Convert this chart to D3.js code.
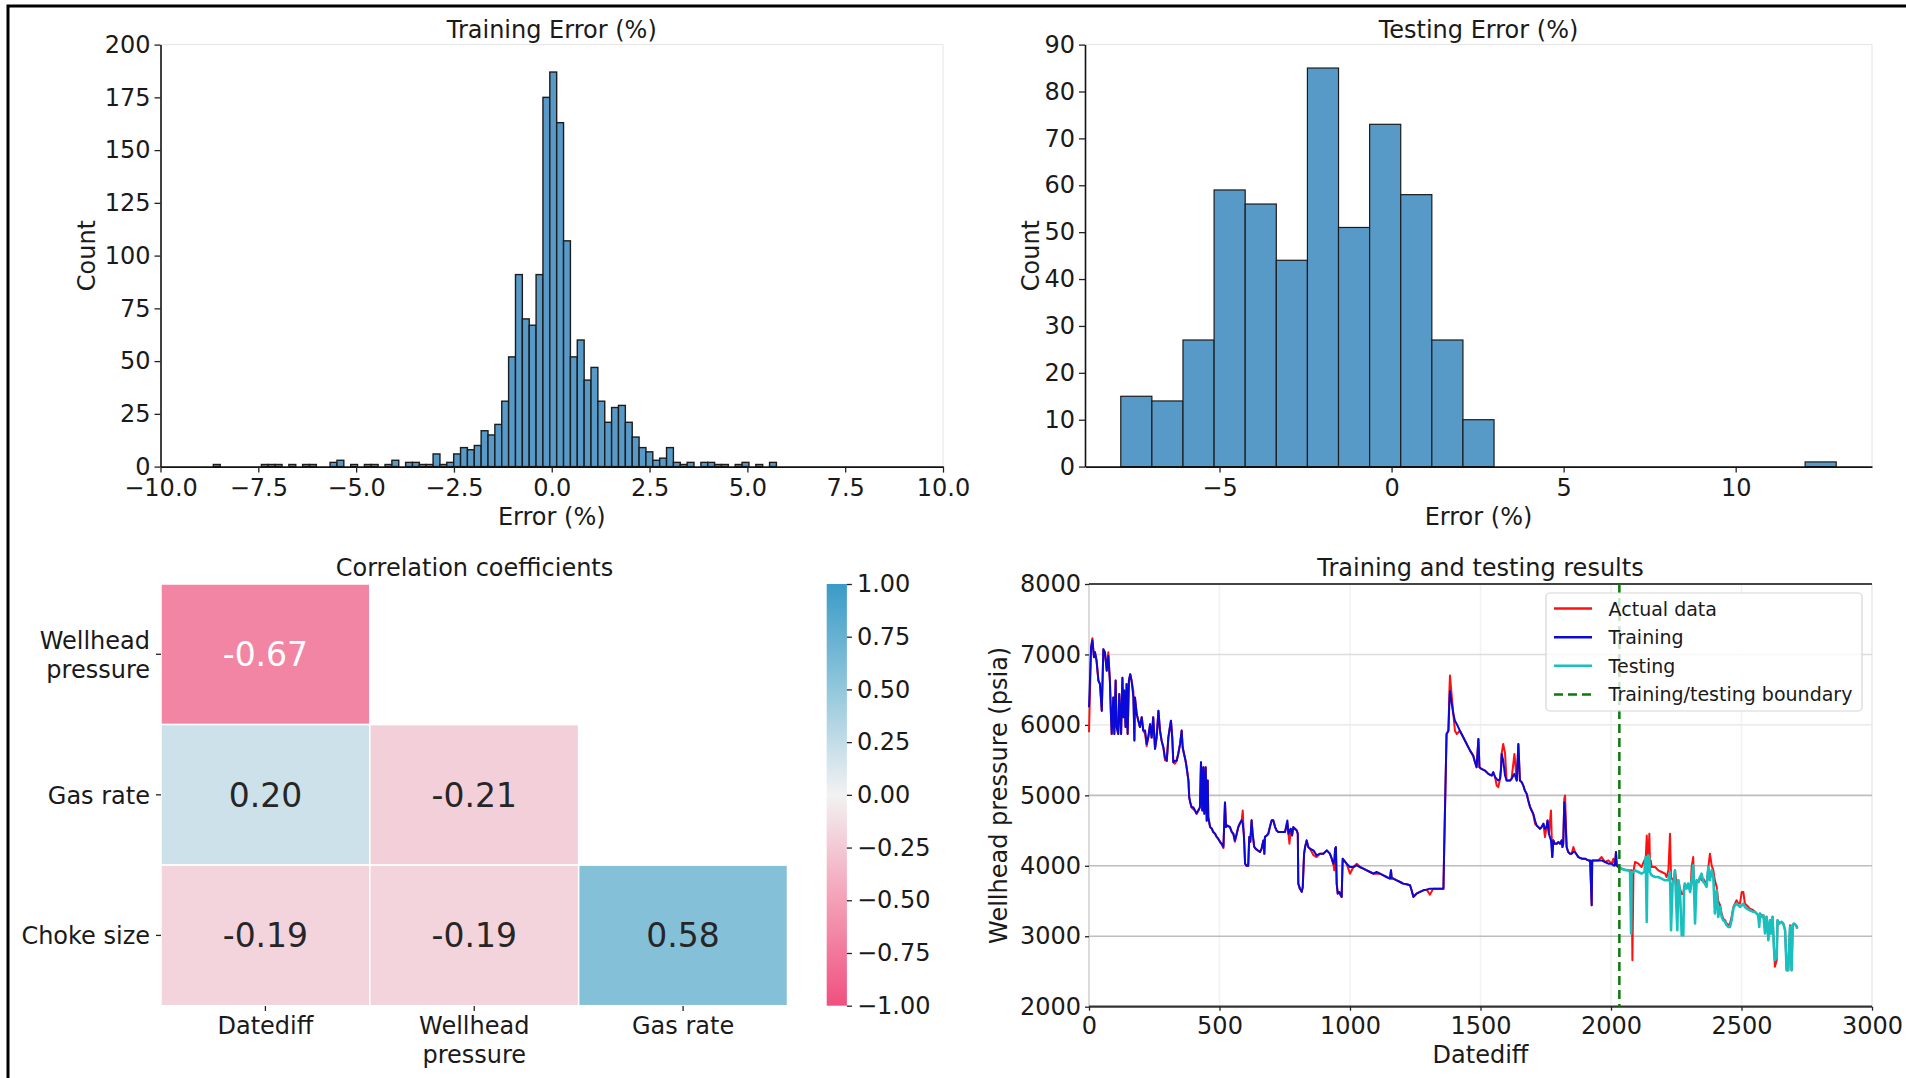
<!DOCTYPE html>
<meta charset="utf-8">
<style>
body { margin: 0; background: #fff; }
svg { display: block; }
</style>
<svg id="fig" width="1906" height="1078"></svg>
<script src="https://cdn.jsdelivr.net/npm/d3@7"></script>
<script>

// ---------- data ----------

// training error histogram: equal bins starting at trainBinStart (error %)
var trainBinStart = -8.649
var trainBinWidth = 0.1755
var trainCounts = [1,0,0,0,0,0,0,1,1,1, 0,1,0,1,1,0,0,2,3,0, 1,0,1,1,0,1,3,0,2,2,
    1,1,6,1,2,6,9,8,10,17, 15,20,31,52,91,70,67,91,175,187, 163,107,52,60,41,47,31,21,28,29,
    21,14,9,7,3,4,9,2,1,2, 0,2,2,1,1,0,1,2,0,1, 0,2]

// testing error histogram
var testBinStart = -7.87
var testBinWidth = 0.904
var testCounts = [15,14,27,59,56,44,85,51,73,58,27,10,0,0,0,0,0,0,0,0,0,0,1]

// correlation matrix (lower triangle)
var corrCols = ['Datediff', 'Wellhead pressure', 'Gas rate']
var corrRows = ['Wellhead pressure', 'Gas rate', 'Choke size']
var corrValues = [[-0.67], [0.20, -0.21], [-0.19, -0.19, 0.58]]
var cbarTicks = [-1, -0.75, -0.5, -0.25, 0, 0.25, 0.5, 0.75, 1]

// wellhead pressure vs datediff, training period
var trainDays = [0,8,13,19,23,29,36,42,49,55,61,68,74,80,84,87,93,97,102,106,112,116,123,128,132,135,140,144,148,153,
    158,163,170,174,176,183,189,195,202,208,215,221,227,234,240,246,253,259,266,272,278,285,291,298,304,310,314,319,323,329,
    336,342,349,355,359,364,370,374,381,384,388,393,400,406,412,419,425,429,434,438,442,447,451,455,457,464,470,476,483,489,
    495,502,508,515,521,525,531,540,547,553,559,566,572,578,585,589,593,595,598,604,610,614,618,623,627,633,639,646,655,661,
    668,672,674,681,687,693,700,706,713,719,725,738,751,760,764,768,773,778,783,789,796,800,802,808,815,819,824,828,834,840,
    847,860,872,885,898,911,923,930,936,940,943,946,949,953,959,964,968,972,977,987,1000,1013,1026,1038,1051,1064,1077,1089,1102,1115,
    1128,1140,1153,1157,1160,1166,1179,1192,1204,1217,1230,1236,1243,1249,1255,1268,1281,1294,1306,1319,1332,1345,1358,1361,1365,1370,1377,1381,1383,1390,
    1396,1402,1409,1421,1434,1447,1460,1472,1479,1485,1492,1496,1504,1517,1530,1543,1549,1556,1562,1568,1575,1579,1581,1587,1594,1600,1613,1619,1630,1639,
    1645,1651,1658,1664,1670,1677,1683,1690,1696,1702,1709,1715,1722,1728,1734,1741,1747,1753,1757,1762,1770,1775,1779,1785,1792,1798,1805,1811,1814,1817,
    1821,1824,1830,1836,1843,1849,1856,1862,1875,1888,1900,1913,1920,1926,1928,1939,1951,1964,1977,1990,2003,2009,2015,2019,2022,2028]
var trainPred = [6250,7100,7200,6960,7030,6910,6630,6580,6200,7075,7030,6770,6980,6630,6150,5870,6390,5870,6630,5970,5870,6440,5870,6670,6110,6490,5970,6580,5870,6630,
    6720,6630,6390,5780,6390,6150,6060,5970,6110,5920,5920,5730,5820,6010,5820,6110,5660,5820,6200,5920,5780,5680,5540,5490,5820,5970,6060,5820,5470,5490,
    5490,5590,5730,5920,5680,5590,5490,5400,5210,4970,4900,4830,4830,4785,4740,4785,4830,5470,4785,5400,4740,5400,4640,5210,4690,4550,4530,4480,4455,4410,
    4385,4340,4310,4270,4900,4550,4570,4550,4480,4455,4360,4455,4550,4600,4645,4600,4455,4310,4030,4000,4000,4410,4340,4645,4455,4270,4240,4220,4195,4240,
    4360,4170,4410,4430,4455,4550,4645,4645,4550,4500,4480,4480,4480,4644,4455,4500,4526,4431,4549,4526,4500,4455,3747,3676,3630,3700,4170,4266,4361,4266,
    4242,4219,4148,4172,4172,4219,4172,4101,4030,4101,4242,4266,3747,3605,3629,3582,3558,4101,4077,4030,3983,3983,4006,3983,3959,3936,3912,3888,3912,3888,
    3865,3841,3818,3936,3818,3818,3794,3770,3747,3737,3723,3652,3558,3582,3605,3629,3652,3662,3676,3676,3676,3676,3676,4266,4974,5871,5918,6343,6480,6296,
    6154,6060,6013,5918,5824,5730,5635,5564,5470,5399,5800,5400,5375,5352,5305,5281,5328,5257,5234,5210,5234,5399,5588,5494,5281,5210,5210,5234,5305,5210,
    5730,5210,5187,5139,5069,5021,4927,4833,4785,4738,4644,4573,4549,4526,4549,4597,4526,4549,4644,4455,4361,4124,4361,4313,4313,4337,4313,4361,4266,4313,
    4903,4760,4266,4195,4172,4172,4195,4195,4124,4101,4101,4077,4077,3440,4077,4077,4077,4077,4054,4030,4030,4006,4006,4195,4006,3983]
var trainActual = [5895,7100,7230,6960,7030,6910,6630,6580,6200,7075,7030,6770,7030,6630,6150,5870,6390,5870,6630,5970,5870,6440,5870,6670,6110,6490,5970,6580,5870,6630,
    6720,6630,6480,5780,6390,6150,6060,5970,6110,5920,5870,5700,5820,6010,5820,6110,5660,5820,6200,5920,5780,5680,5500,5490,5820,5970,6060,5820,5470,5450,
    5490,5590,5730,5920,5680,5590,5490,5400,5210,4970,4900,4830,4800,4785,4740,4785,4830,5470,4785,5400,4740,5400,4640,5210,4690,4550,4530,4480,4455,4410,
    4385,4340,4310,4250,4900,4550,4570,4550,4480,4455,4340,4455,4550,4600,4645,4785,4455,4310,4030,4000,4000,4410,4340,4645,4455,4270,4240,4220,4195,4240,
    4360,4170,4410,4430,4455,4550,4645,4645,4550,4500,4480,4480,4480,4600,4455,4313,4526,4431,4549,4526,4500,4455,3747,3676,3630,3700,4170,4266,4361,4266,
    4242,4150,4124,4172,4172,4219,4172,4101,4030,3936,4242,4266,3747,3605,3629,3582,3558,4101,4077,4030,3888,3983,4030,3983,3959,3936,3912,3888,3888,3888,
    3865,3841,3818,3936,3818,3818,3794,3770,3747,3737,3723,3652,3558,3582,3605,3629,3652,3662,3590,3676,3676,3676,3676,4266,5000,5871,5918,6500,6700,6400,
    6154,5918,5871,5918,5824,5730,5635,5564,5470,5399,5800,5400,5375,5352,5305,5281,5328,5257,5139,5116,5234,5399,5588,5730,5600,5210,5210,5234,5588,5210,
    5730,5210,5187,5139,5069,5021,4927,4833,4785,4738,4597,4573,4549,4526,4549,4597,4408,4549,4644,4455,4785,4124,4361,4313,4313,4337,4313,4361,4266,4313,
    4950,4998,4266,4195,4172,4172,4266,4195,4124,4101,4101,4077,4077,3440,4077,4077,4077,4124,4054,4077,4030,4101,4006,4195,4006,3983]

// testing period
var testDays = [2028,2041,2054,2066,2073,2077,2079,2082,2086,2092,2105,2117,2128,2133,2137,2140,2143,2147,2149,2152,
    2156,2169,2181,2194,2207,2213,2220,2226,2230,2236,2241,2245,2254,2258,2264,2271,2277,2280,2283,2290,
    2296,2303,2305,2309,2315,2318,2322,2328,2335,2341,2347,2354,2360,2366,2373,2379,2386,2392,2398,2405,
    2411,2418,2424,2430,2437,2443,2449,2456,2462,2469,2475,2481,2488,2494,2501,2507,2513,2520,2532,2545,
    2552,2558,2564,2568,2571,2577,2584,2590,2596,2603,2609,2613,2619,2624,2628,2635,2638,2645,2654,2660,
    2667,2673,2679,2686,2692,2696,2701,2709,2714]
var testPred = [3983,3959,3945,3936,3912,3039,3912,3912,3912,3936,3912,3888,3912,4124,3204,4124,4148,4101,3912,3888,
    3865,3841,3841,3818,3794,3794,3794,3912,3086,3747,3794,3936,3086,3794,3652,3015,3015,3652,3747,3676,
    3747,3629,3676,3794,4006,3700,3180,3794,3770,3841,3888,3770,3747,3700,3983,3794,3936,3841,3322,3652,
    3275,3416,3275,3227,3204,3157,3133,3133,3227,3393,3440,3464,3440,3416,3440,3464,3416,3393,3369,3345,
    3345,3322,3298,3133,3322,3275,3298,3039,3275,2944,3227,3039,3275,2850,2661,2708,3227,3180,3204,3180,
    3086,2519,2519,3133,2519,3157,3180,3157,3109]
var testActual = [3983,3959,3936,3936,3936,3912,3936,2661,3912,4054,4030,3983,4077,4101,4431,4124,4124,4455,4077,4077,
    3983,3983,3936,3912,3888,3841,3936,4455,3841,3800,3794,3936,3700,3794,3676,3600,3600,3700,3747,3700,
    3747,3652,3676,3983,4124,3747,3600,3794,3770,3841,3794,3818,3770,3747,3983,4172,4000,3936,3794,3700,
    3500,3440,3322,3250,3227,3180,3157,3180,3275,3416,3464,3511,3464,3464,3629,3629,3464,3440,3393,3369,
    3345,3322,3298,3200,3322,3298,3298,3100,3275,3000,3227,3039,3275,2900,2567,2661,3227,3180,3204,3180,
    3086,2519,2519,3157,2519,3157,3180,3157,3109]
var boundaryDay = 2032

// ---------- drawing ----------

var svg = d3.select('#fig')
var font = '"DejaVu Sans", sans-serif'
var ink = '#1a1a1a'
var barFill = '#5799c7'

svg.append('rect').attr('width', 1906).attr('height', 1078).attr('fill', '#fff')

function styleAxis(g) {
    g.attr('font-size', 24).attr('font-family', font)
    g.selectAll('text').attr('fill', ink)
    g.selectAll('.tick line').attr('stroke', '#222').attr('stroke-width', 1.3)
    g.select('.domain').attr('stroke', '#111').attr('stroke-width', 1.6)
}

function addText(g, str, x, y, size, anchor, rot) {
    var t = g.append('text')
        .attr('font-family', font)
        .attr('font-size', size)
        .attr('fill', ink)
        .attr('text-anchor', anchor || 'middle')
        .text(str)
    if (rot) t.attr('transform', 'translate(' + x + ',' + y + ') rotate(' + rot + ')')
    else t.attr('x', x).attr('y', y)
    return t
}

// ---- panel 1 : training error histogram
var x1 = d3.scaleLinear().domain([-10, 10]).range([160.5, 943])
var y1 = d3.scaleLinear().domain([0, 200]).range([466.6, 44.6])
var p1 = svg.append('g')

p1.append('path')
    .attr('d', 'M' + x1(-10) + ',' + y1(200) + 'H' + x1(10) + 'V' + y1(0))
    .attr('fill', 'none').attr('stroke', '#e4e4e4')

p1.selectAll('rect')
    .data(trainCounts)
    .enter()
    .append('rect')
    .attr('x', (d, i) => x1(trainBinStart + i * trainBinWidth))
    .attr('width', (d, i) => x1(trainBinStart + (i + 1) * trainBinWidth) - x1(trainBinStart + i * trainBinWidth))
    .attr('y', (d) => y1(d))
    .attr('height', (d) => y1(0) - y1(d))
    .attr('fill', barFill)
    .attr('stroke', '#1c1c1c')
    .attr('stroke-width', 1.4)

p1.append('g').attr('transform', 'translate(0,' + y1(0) + ')')
    .call(d3.axisBottom(x1).tickValues(d3.range(-10, 10.01, 2.5)).tickFormat(d3.format('.1f'))
        .tickSize(6).tickSizeOuter(0).tickPadding(6))
    .call(styleAxis)
p1.append('g').attr('transform', 'translate(' + x1(-10) + ',0)')
    .call(d3.axisLeft(y1).tickValues(d3.range(0, 201, 25)).tickSize(6).tickSizeOuter(0).tickPadding(4))
    .call(styleAxis)

addText(p1, 'Training Error (%)', (x1(-10) + x1(10)) / 2, 38, 24)
addText(p1, 'Error (%)', (x1(-10) + x1(10)) / 2, 525, 24)
addText(p1, 'Count', 95, (y1(0) + y1(200)) / 2, 24, 'middle', -90)

// ---- panel 2 : testing error histogram
var testLo = testBinStart, testHi = testBinStart + testCounts.length * testBinWidth
var testPad = (testHi - testLo) * 0.05
var x2 = d3.scaleLinear().domain([testLo - testPad, testHi + testPad]).range([1085, 1872])
var y2 = d3.scaleLinear().domain([0, 90]).range([466.6, 44.6])
var p2 = svg.append('g')

p2.append('path')
    .attr('d', 'M' + x2.range()[0] + ',' + y2(90) + 'H' + x2.range()[1] + 'V' + y2(0))
    .attr('fill', 'none').attr('stroke', '#e4e4e4')

p2.selectAll('rect')
    .data(testCounts)
    .enter()
    .append('rect')
    .attr('x', (d, i) => x2(testBinStart + i * testBinWidth))
    .attr('width', (d, i) => x2(testBinStart + (i + 1) * testBinWidth) - x2(testBinStart + i * testBinWidth))
    .attr('y', (d) => y2(d))
    .attr('height', (d) => y2(0) - y2(d))
    .attr('fill', barFill)
    .attr('stroke', '#1c1c1c')
    .attr('stroke-width', 1.2)

p2.append('g').attr('transform', 'translate(0,' + y2(0) + ')')
    .call(d3.axisBottom(x2).tickValues([-5, 0, 5, 10]).tickFormat(d3.format('d'))
        .tickSize(6).tickSizeOuter(0).tickPadding(6))
    .call(styleAxis)
p2.append('g').attr('transform', 'translate(' + x2.range()[0] + ',0)')
    .call(d3.axisLeft(y2).tickValues(d3.range(0, 91, 10)).tickSize(6).tickSizeOuter(0).tickPadding(4))
    .call(styleAxis)

addText(p2, 'Testing Error (%)', 1478.5, 38, 24)
addText(p2, 'Error (%)', 1478.5, 525, 24)
addText(p2, 'Count', 1039, (y2(0) + y2(90)) / 2, 24, 'middle', -90)

// ---- panel 3 : correlation heatmap
var cx = d3.scaleBand().domain(corrCols).range([161, 787.5])
var cy = d3.scaleBand().domain(corrRows).range([584, 1005.7])
var corrColor = d3.scaleLinear()
    .domain([-1, -0.5, 0, 0.5, 1])
    .range(['#f0507f', '#f4a0b7', '#f2f2f2', '#93c7dd', '#3a9bc6'])

function luminance(c) {
    var r = d3.rgb(c)
    var f = (v) => { v /= 255; return v <= 0.03928 ? v / 12.92 : Math.pow((v + 0.055) / 1.055, 2.4) }
    return 0.2126 * f(r.r) + 0.7152 * f(r.g) + 0.0722 * f(r.b)
}

var cells = []
corrValues.forEach(function (row, ri) {
    row.forEach(function (v, ci) {
        cells.push({ row: corrRows[ri], col: corrCols[ci], v: v })
    })
})

var p3 = svg.append('g')
p3.selectAll('rect.cell')
    .data(cells)
    .enter()
    .append('rect')
    .attr('class', 'cell')
    .attr('x', (d) => cx(d.col))
    .attr('y', (d) => cy(d.row))
    .attr('width', cx.bandwidth())
    .attr('height', cy.bandwidth())
    .attr('fill', (d) => corrColor(d.v))
    .attr('stroke', '#fff')
    .attr('stroke-width', 1.5)

p3.selectAll('text.annot')
    .data(cells)
    .enter()
    .append('text')
    .attr('class', 'annot')
    .attr('x', (d) => cx(d.col) + cx.bandwidth() / 2)
    .attr('y', (d) => cy(d.row) + cy.bandwidth() / 2 + 12)
    .attr('text-anchor', 'middle')
    .attr('font-family', font)
    .attr('font-size', 33)
    .attr('fill', (d) => luminance(corrColor(d.v)) > 0.408 ? '#262626' : '#ffffff')
    .text((d) => d3.format('.2f')(d.v).replace('\u2212', '-'))

// column ticks and labels
corrCols.forEach(function (c) {
    var xc = cx(c) + cx.bandwidth() / 2
    p3.append('line').attr('x1', xc).attr('x2', xc).attr('y1', 1006).attr('y2', 1011)
        .attr('stroke', '#222').attr('stroke-width', 1.3)
    var t = addText(p3, '', xc, 1034, 24)
    c.split(' ').length > 1 && c.indexOf('Wellhead') === 0
        ? c.split(' ').forEach((w, i) => t.append('tspan').attr('x', xc).attr('dy', i ? 29 : 0).text(w))
        : t.text(c)
})
// row ticks and labels
corrRows.forEach(function (r) {
    var yc = cy(r) + cy.bandwidth() / 2
    p3.append('line').attr('x1', 156).attr('x2', 161).attr('y1', yc).attr('y2', yc)
        .attr('stroke', '#222').attr('stroke-width', 1.3)
    var t = addText(p3, '', 150, yc + 9, 24, 'end')
    if (r.indexOf('Wellhead') === 0) {
        r.split(' ').forEach((w, i) => t.append('tspan').attr('x', 150).attr('dy', i ? 29 : -14.5).text(w))
    } else t.text(r)
})
addText(p3, 'Correlation coefficients', 474.5, 576, 24)

// colorbar
var cbY = d3.scaleLinear().domain([-1, 1]).range([1005.7, 584])
var grad = svg.append('defs').append('linearGradient')
    .attr('id', 'cbgrad').attr('x1', 0).attr('x2', 0).attr('y1', 1).attr('y2', 0)
d3.range(0, 1.001, 0.05).forEach(function (t) {
    grad.append('stop').attr('offset', t).attr('stop-color', corrColor(-1 + 2 * t))
})
p3.append('rect')
    .attr('x', 826.7).attr('y', cbY(1))
    .attr('width', 20.2).attr('height', cbY(-1) - cbY(1))
    .attr('fill', 'url(#cbgrad)')
p3.append('g').attr('transform', 'translate(846.9,0)')
    .call(d3.axisRight(cbY).tickValues(cbarTicks).tickFormat(d3.format('.2f'))
        .tickSize(5).tickSizeOuter(0).tickPadding(5))
    .call(styleAxis)
    .call((g) => g.select('.domain').remove())

// ---- panel 4 : training and testing results
var tx = d3.scaleLinear().domain([0, 3000]).range([1089, 1872])
var ty = d3.scaleLinear().domain([2000, 8000]).range([1006.7, 584])
var gridShade = { 2000: '#333', 3000: '#bdbdbd', 4000: '#bdbdbd', 5000: '#bdbdbd', 6000: '#ececec', 7000: '#dcdcdc', 8000: '#444' }
var p4 = svg.append('g')

d3.range(500, 3001, 500).forEach(function (v) {
    p4.append('line').attr('x1', tx(v)).attr('x2', tx(v)).attr('y1', ty(8000)).attr('y2', ty(2000))
        .attr('stroke', v === 3000 ? '#e8e8e8' : '#f2f2f2').attr('stroke-width', 1.5)
})
p4.append('line').attr('x1', tx(0)).attr('x2', tx(0)).attr('y1', ty(8000)).attr('y2', ty(2000))
    .attr('stroke', '#cfcfcf').attr('stroke-width', 1.5)
d3.range(2000, 8001, 1000).forEach(function (v) {
    p4.append('line').attr('x1', tx(0)).attr('x2', tx(3000)).attr('y1', ty(v)).attr('y2', ty(v))
        .attr('stroke', gridShade[v]).attr('stroke-width', (v === 2000 || v === 8000) ? 2.2 : 1.6)
})

p4.append('g').attr('transform', 'translate(0,' + ty(2000) + ')')
    .call(d3.axisBottom(tx).tickValues(d3.range(0, 3001, 500)).tickFormat(d3.format('d'))
        .tickSize(4).tickSizeOuter(0).tickPadding(6))
    .call(styleAxis)
    .call((g) => g.select('.domain').remove())
p4.append('g').attr('transform', 'translate(' + tx(0) + ',0)')
    .call(d3.axisLeft(ty).tickValues(d3.range(2000, 8001, 1000)).tickFormat(d3.format('d'))
        .tickSize(4).tickSizeOuter(0).tickPadding(4))
    .call(styleAxis)
    .call((g) => g.select('.domain').remove())

var line = d3.line().x((d) => tx(d[0])).y((d) => ty(d[1]))
var actual = trainDays.map((d, i) => [d, trainActual[i]])
    .concat(testDays.map((d, i) => [d, testActual[i]]))
var trainLine = trainDays.map((d, i) => [d, trainPred[i]])
var testLine = testDays.map((d, i) => [d, testPred[i]])

p4.append('path').datum(actual).attr('d', line)
    .attr('fill', 'none').attr('stroke', '#ff1010').attr('stroke-width', 2).attr('stroke-linejoin', 'round')
p4.append('path').datum(trainLine).attr('d', line)
    .attr('fill', 'none').attr('stroke', '#0a0ad8').attr('stroke-width', 2).attr('stroke-linejoin', 'round')
p4.append('path').datum(testLine).attr('d', line)
    .attr('fill', 'none').attr('stroke', '#19c0c0').attr('stroke-width', 2.6).attr('stroke-linejoin', 'round')
p4.append('line')
    .attr('x1', tx(boundaryDay)).attr('x2', tx(boundaryDay))
    .attr('y1', ty(8000)).attr('y2', ty(2000))
    .attr('stroke', '#0a7a0a').attr('stroke-width', 2.5).attr('stroke-dasharray', '9,5')

// legend
var legItems = [
    { label: 'Actual data', color: '#ff1010', dash: null },
    { label: 'Training', color: '#0a0ad8', dash: null },
    { label: 'Testing', color: '#19c0c0', dash: null },
    { label: 'Training/testing boundary', color: '#0a7a0a', dash: '9,5' }
]
var leg = p4.append('g')
leg.append('rect').attr('x', 1546).attr('y', 593).attr('width', 316).attr('height', 118).attr('rx', 4)
    .attr('fill', '#fff').attr('fill-opacity', 0.8).attr('stroke', '#d6d6d6').attr('stroke-width', 1.2)
legItems.forEach(function (d, i) {
    var yy = 608.6 + i * 28.6
    leg.append('line').attr('x1', 1554).attr('x2', 1592).attr('y1', yy).attr('y2', yy)
        .attr('stroke', d.color).attr('stroke-width', 2.5).attr('stroke-dasharray', d.dash)
    addText(leg, d.label, 1608.6, yy + 7, 19, 'start')
})

addText(p4, 'Training and testing results', (tx(0) + tx(3000)) / 2, 576, 24)
addText(p4, 'Datediff', (tx(0) + tx(3000)) / 2, 1063, 24)
addText(p4, 'Wellhead pressure (psia)', 1007, (ty(2000) + ty(8000)) / 2, 24, 'middle', -90)

// figure frame
svg.append('path').attr('d', 'M8,1078V6H1906')
    .attr('fill', 'none').attr('stroke', '#000').attr('stroke-width', 3)

</script>
